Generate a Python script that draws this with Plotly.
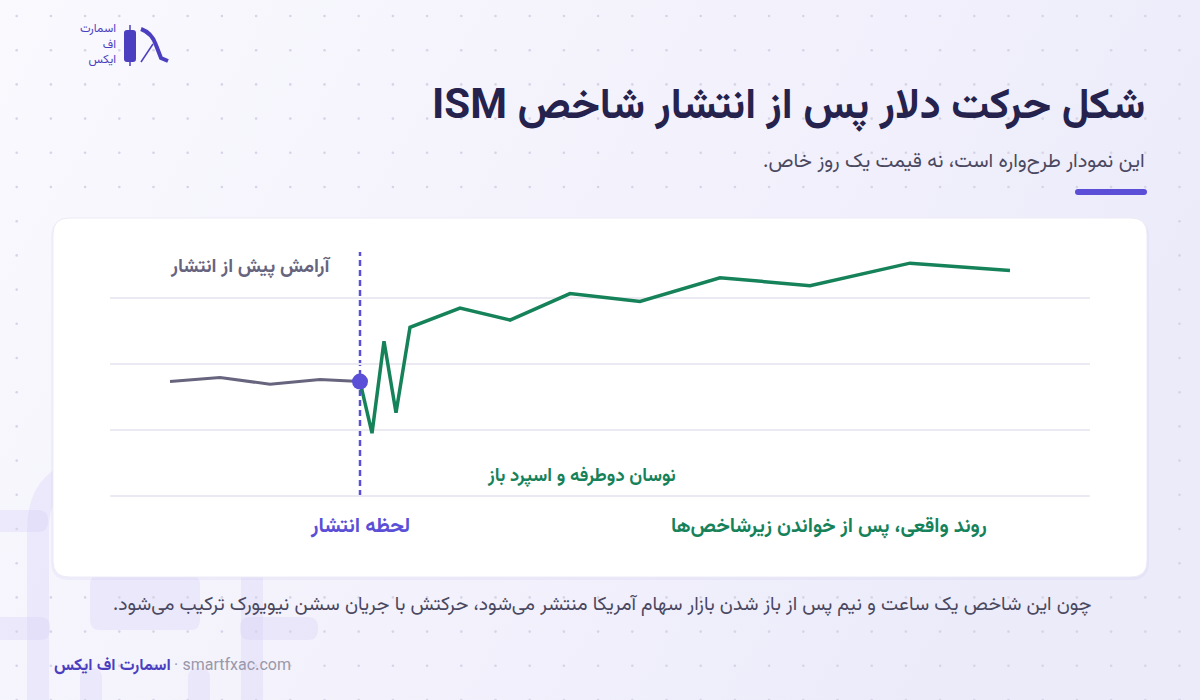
import base64
import plotly.graph_objects as go

# schematic path, x = time steps around the release (0), y = price level (arbitrary units)
calm_x = [-19, -14, -9, -4, 0]
calm_y = [17.3, 17.9, 16.9, 17.6, 17.3]
after_x = [0, 1.2, 2.4, 3.6, 5, 10, 15, 21, 28, 36, 45, 55, 65]
after_y = [17.3, 9.5, 23.4, 12.6, 25.5, 28.4, 26.6, 30.6, 29.4, 33.0, 31.8, 35.2, 34.1]
grid_levels = [0, 10, 20, 30]

title = "شکل حرکت دلار پس از انتشار شاخص ISM"
subtitle = "این نمودار طرح\u200cواره است، نه قیمت یک روز خاص."
label_calm = "آرامش پیش از انتشار"
label_release = "لحظه انتشار"
label_noise = "نوسان دوطرفه و اسپرد باز"
label_trend = "روند واقعی، پس از خواندن زیرشاخص\u200cها"
footnote = "چون این شاخص یک ساعت و نیم پس از باز شدن بازار سهام آمریکا منتشر می\u200cشود، حرکتش با جریان سشن نیویورک ترکیب می\u200cشود."
brand = "اسمارت اف ایکس"
site = "· smartfxac.com"
logo_lines = ["اسمارت", "اف", "ایکس"]

FONT = "Vazirmatn, 'DejaVu Sans', sans-serif"
PURPLE = "#5a4fd6"
GREEN = "#16825a"
GREY = "#67647e"
NAVY = "#25224d"
W, H = 1200, 700


def px(x):
    return x / W


def py(y):
    return 1 - y / H


def rtl(s):
    return "\u202b" + s + "\u202c"


def rounded_rect(x0, y0, x1, y1, r):
    # path in paper coords from pixel box
    p = lambda x, y: f"{px(x)},{py(y)}"
    return (f"M {p(x0 + r, y0)} L {p(x1 - r, y0)} Q {p(x1, y0)} {p(x1, y0 + r)} "
            f"L {p(x1, y1 - r)} Q {p(x1, y1)} {p(x1 - r, y1)} L {p(x0 + r, y1)} "
            f"Q {p(x0, y1)} {p(x0, y1 - r)} L {p(x0, y0 + r)} Q {p(x0, y0)} {p(x0 + r, y0)} Z")


# soft background gradient (whiter top-left, lavender top-right)
bg_svg = ('<svg xmlns="http://www.w3.org/2000/svg" width="1200" height="700">'
          '<defs><linearGradient id="g" x1="0" y1="0" x2="1" y2="0.35">'
          '<stop offset="0" stop-color="#f9f9fe"/><stop offset="0.55" stop-color="#f3f2fc"/>'
          '<stop offset="1" stop-color="#ecebfa"/></linearGradient></defs>'
          '<rect width="1200" height="700" fill="url(#g)"/></svg>')
bg_uri = "data:image/svg+xml;base64," + base64.b64encode(bg_svg.encode()).decode()

fig = go.Figure()

# background dot grid (outside the card)
dot_x, dot_y = [], []
for i in range(36):
    for j in range(21):
        x = 16.7 + 34.2 * i
        y = 16 + 34.2 * j
        if 50 < x < 1150 and 215 < y < 580:
            continue
        dot_x.append(x)
        dot_y.append(y)
fig.add_trace(go.Scatter(x=dot_x, y=dot_y, mode="markers", xaxis="x2", yaxis="y2",
                         marker=dict(size=2.6, color="#d6d4e6"), hoverinfo="skip", showlegend=False))

# calm before release
fig.add_trace(go.Scatter(x=calm_x, y=calm_y, mode="lines", line=dict(color=GREY, width=3),
                         hoverinfo="skip", showlegend=False))
# after release
fig.add_trace(go.Scatter(x=after_x, y=after_y, mode="lines", line=dict(color=GREEN, width=3.5),
                         hoverinfo="skip", showlegend=False))
# release point
fig.add_trace(go.Scatter(x=[calm_x[-1]], y=[calm_y[-1]], mode="markers",
                         marker=dict(size=16, color=PURPLE), hoverinfo="skip", showlegend=False))

shapes = []
# faint decorative outline bottom-left
deco = "rgba(214,210,246,0.35)"
shapes.append(dict(type="path", xref="paper", yref="paper", layer="below",
                   path=rounded_rect(38, 470, 252, 760, 60), line=dict(color=deco, width=22)))
for (x0, y0, x1, y1) in [(-20, 510, 48, 532), (-20, 617, 50, 640), (240, 617, 318, 640),
                         (90, 575, 200, 630), (80, 668, 102, 720), (188, 668, 210, 720)]:
    shapes.append(dict(type="path", xref="paper", yref="paper", layer="below",
                       path=rounded_rect(x0, y0, x1, y1, 10), fillcolor=deco, line=dict(width=0)))
# card shadow + card
shapes.append(dict(type="path", xref="paper", yref="paper", layer="below",
                   path=rounded_rect(51, 219, 1149, 580, 18), fillcolor="rgba(120,110,200,0.06)",
                   line=dict(width=0)))
shapes.append(dict(type="path", xref="paper", yref="paper", layer="below",
                   path=rounded_rect(53, 218, 1147, 577, 16), fillcolor="white",
                   line=dict(color="#ecebf6", width=1)))
# accent bar under subtitle
shapes.append(dict(type="path", xref="paper", yref="paper", layer="below",
                   path=rounded_rect(1075, 189, 1147, 195, 3), fillcolor=PURPLE, line=dict(width=0)))
# release marker line
shapes.append(dict(type="line", xref="x", yref="y", x0=0, x1=0, y0=0, y1=36.9, layer="below",
                   line=dict(color=PURPLE, width=2.5, dash="6px,4px")))
# logo mark
shapes.append(dict(type="path", xref="paper", yref="paper", layer="above",
                   path=rounded_rect(124, 30, 136, 62, 3), fillcolor="#4b3fc0", line=dict(width=0)))
shapes.append(dict(type="line", xref="paper", yref="paper", x0=px(130), x1=px(130), y0=py(25), y1=py(66),
                   line=dict(color="#4b3fc0", width=1.5)))
shapes.append(dict(type="path", xref="paper", yref="paper",
                   path=f"M {px(141)},{py(29)} Q {px(152)},{py(33)} {px(156)},{py(45)} L {px(161)},{py(58)} L {px(168)},{py(61)}",
                   line=dict(color="#4b3fc0", width=4)))
shapes.append(dict(type="line", xref="paper", yref="paper", x0=px(153), x1=px(141), y0=py(44), y1=py(62),
                   line=dict(color="#4b3fc0", width=1.5)))

annotations = []


def note(text, x, y, size, color, xanchor="right", bold=False, xref="paper"):
    t = f"<b>{text}</b>" if bold else text
    annotations.append(dict(text=rtl(t), x=x if xref != "paper" else px(x), y=py(y), xref=xref,
                            yref="paper", xanchor=xanchor, yanchor="middle", showarrow=False,
                            align="right", font=dict(family=FONT, size=size, color=color)))


note(title, 1147, 108, 42, NAVY, bold=True)
note(subtitle, 1147, 162, 20, "#4a4860")
note(label_calm, 332, 267, 19, GREY, bold=True)
note(label_noise, 581, 477, 18.5, GREEN, xanchor="center", bold=True)
note(label_release, 0, 527, 20.5, PURPLE, xanchor="center", bold=True, xref="x")
note(label_trend, 829, 527, 20, GREEN, xanchor="center", bold=True)
note(footnote, 1093, 605, 19.3, "#4a4860")
note(brand, 52, 666, 16.5, "#4b3fc0", xanchor="left", bold=True)
annotations.append(dict(text=site, x=px(172), y=py(666), xref="paper", yref="paper", xanchor="left",
                        yanchor="middle", showarrow=False, font=dict(family=FONT, size=16, color="#9a98ab")))
note("<br>".join(logo_lines), 118, 45, 12, "#4b3fc0")

fig.update_layout(
    width=W, height=H,
    margin=dict(l=0, r=0, t=0, b=0),
    paper_bgcolor="#f3f2fc",
    plot_bgcolor="rgba(0,0,0,0)",
    images=[dict(source=bg_uri, xref="paper", yref="paper", x=0, y=1, sizex=1, sizey=1,
                 sizing="stretch", layer="below")],
    xaxis=dict(domain=[px(110), px(1090)], range=[-25, 73], showgrid=False, zeroline=False,
               showticklabels=False, fixedrange=True),
    yaxis=dict(domain=[py(500), py(240)], range=[-0.6, 38.7], tickvals=grid_levels,
               showgrid=True, gridcolor="#ebeaf2", gridwidth=2, zeroline=False,
               showticklabels=False, fixedrange=True),
    xaxis2=dict(domain=[0, 1], range=[0, W], visible=False, anchor="y2", fixedrange=True),
    yaxis2=dict(domain=[0, 1], range=[H, 0], visible=False, anchor="x2", fixedrange=True),
    shapes=shapes,
    annotations=annotations,
    showlegend=False,
)

fig.write_html("out.html", config={"displayModeBar": False},
               post_script="document.body.style.margin='0';")
